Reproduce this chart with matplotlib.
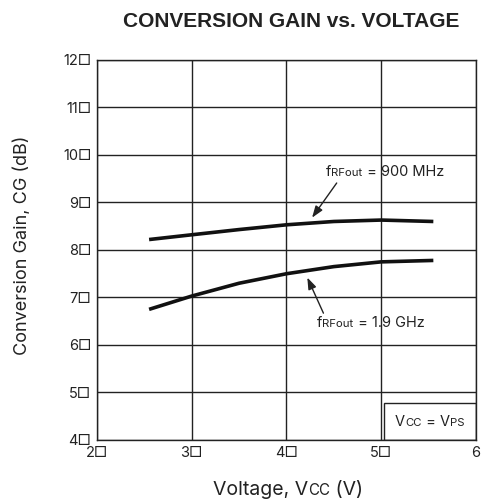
import matplotlib
matplotlib.use("Agg")
import matplotlib.pyplot as plt
from matplotlib.offsetbox import TextArea, HPacker, AnnotationBbox
from matplotlib.patches import Rectangle

volt = [2.55, 3.0, 3.5, 4.0, 4.5, 5.0, 5.55]
cg_900 = [8.22, 8.32, 8.43, 8.53, 8.60, 8.63, 8.60]
cg_1g9 = [6.75, 7.03, 7.30, 7.50, 7.65, 7.75, 7.78]
xticks = [2, 3, 4, 5, 6]
xtick_labels = ["2\u25a1", "3\u25a1", "4\u25a1", "5\u25a1", "6"]
yticks = [4, 5, 6, 7, 8, 9, 10, 11, 12]
ytick_labels = [f"{v}\u25a1" for v in yticks]

FAM = ["Inter", "DejaVu Sans"]
plt.rcParams["font.family"] = FAM
INK = "#222222"

fig = plt.figure(figsize=(4.82, 5.04), dpi=100)
ax = fig.add_axes([0.2012, 0.127, 0.7863, 0.754])

ax.plot(volt, cg_900, color="#111111", lw=2.6, solid_capstyle="butt")
ax.plot(volt, cg_1g9, color="#111111", lw=2.6, solid_capstyle="butt")

ax.set_xlim(2, 6)
ax.set_ylim(4, 12)
ax.set_xticks(xticks)
ax.set_xticklabels(xtick_labels)
ax.set_yticks(yticks)
ax.set_yticklabels(ytick_labels)
ax.tick_params(length=0, labelsize=10.5, pad=4, colors=INK)
ax.grid(True, color=INK, lw=1.0)
for s in ax.spines.values():
    s.set_color(INK)
    s.set_linewidth(1.0)


def mixed(parts, size, xy, coords, target):
    # parts: list of (text, small?) -> baseline aligned pieces
    boxes = [TextArea(t, textprops=dict(fontsize=size * (0.78 if sm else 1.0),
                                        family=FAM, color=INK))
             for t, sm in parts]
    pk = HPacker(children=boxes, align="baseline", pad=0, sep=0)
    ab = AnnotationBbox(pk, xy, xycoords=coords, frameon=False,
                        box_alignment=(0.5, 0.5), pad=0)
    target.add_artist(ab)


arrow = dict(arrowstyle="-|>,head_length=0.7,head_width=0.25",
             color=INK, lw=1.0, shrinkA=0, shrinkB=0)

# curve labels + arrows
mixed([("f", False), ("RFout", True), (" = 900 MHz", False)], 10.5,
      (5.04, 9.64), "data", ax)
ax.annotate("", xy=(4.27, 8.68), xytext=(4.53, 9.41), arrowprops=arrow)
mixed([("f", False), ("RFout", True), (" = 1.9 GHz", False)], 10.5,
      (4.89, 6.46), "data", ax)
ax.annotate("", xy=(4.22, 7.42), xytext=(4.39, 6.67), arrowprops=arrow)

# VCC = VPS box in bottom-right corner
ax.add_patch(Rectangle((5.03, 4.0), 0.97, 0.78, fill=False,
                       edgecolor=INK, lw=1.0, zorder=3))
mixed([("V", False), ("CC", True), (" = V", False), ("PS", True)], 10.5,
      (5.51, 4.38), "data", ax)

fig.text(0.605, 0.958, "CONVERSION GAIN vs. VOLTAGE", ha="center", va="center",
         fontsize=15, fontweight="bold", color=INK,
         family=["Liberation Sans", "DejaVu Sans"])
fig.text(0.046, 0.514, "Conversion Gain, CG (dB)", rotation=90,
         ha="center", va="center", fontsize=13, color=INK)
mixed([("Voltage, V", False), ("CC", True), (" (V)", False)], 14,
      (0.598, 0.028), "figure fraction", fig)

fig.savefig("out.png", dpi=100)
